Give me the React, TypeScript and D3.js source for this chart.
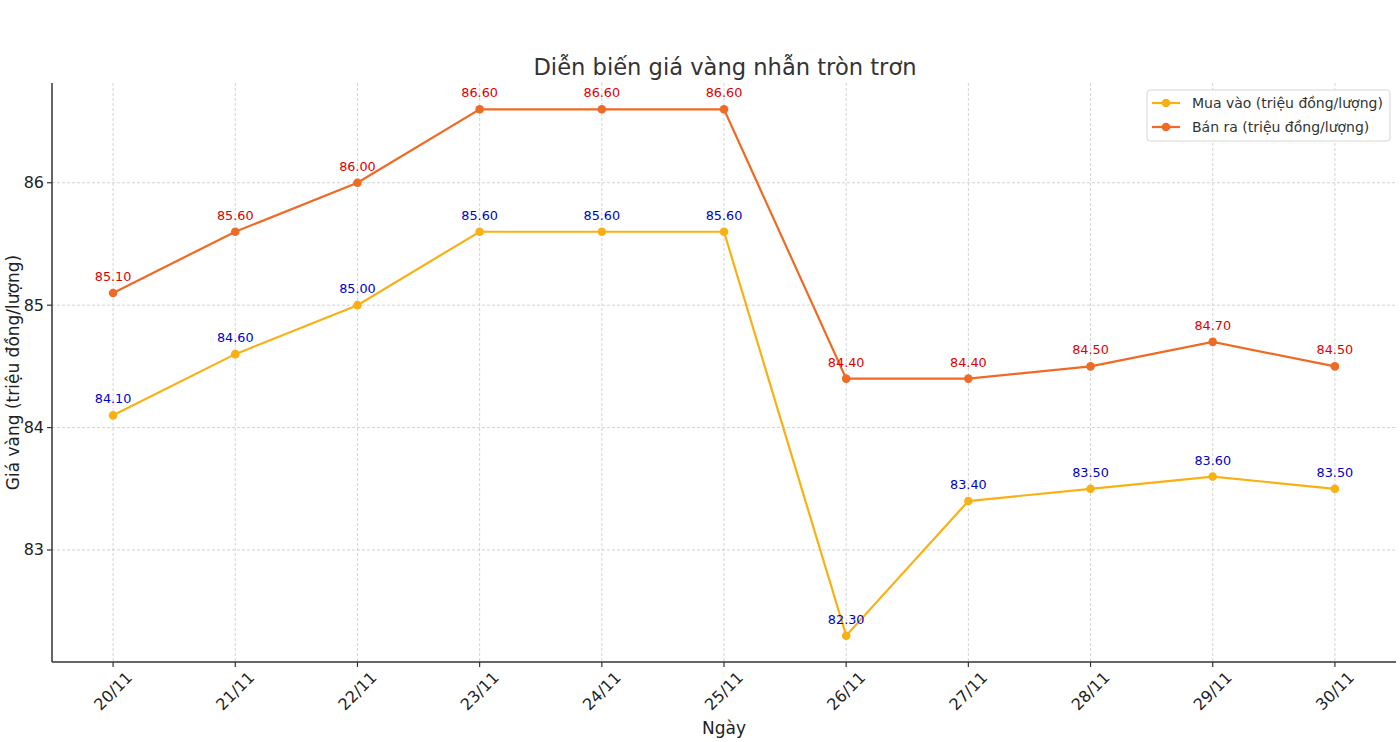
import React from "react";
import * as d3 from "d3";

const categories = ["20/11", "21/11", "22/11", "23/11", "24/11", "25/11", "26/11", "27/11", "28/11", "29/11", "30/11"];
const buyValues = [84.1, 84.6, 85.0, 85.6, 85.6, 85.6, 82.3, 83.4, 83.5, 83.6, 83.5];
const sellValues = [85.1, 85.6, 86.0, 86.6, 86.6, 86.6, 84.4, 84.4, 84.5, 84.7, 84.5];
const yTicks = [83, 84, 85, 86];
const seriesNames = ["Mua vào (triệu đồng/lượng)", "Bán ra (triệu đồng/lượng)"];

const W = 1400, H = 742;
const left = 52, right = 1396, top = 83, bottom = 662;
const FONT = "DejaVu Sans, sans-serif";

export default function App() {
  const x = d3.scaleLinear().domain([-0.5, categories.length - 0.5]).range([left, right]);
  const all = [...buyValues, ...sellValues];
  const mn = d3.min(all)!, mx = d3.max(all)!;
  const pad = (mx - mn) * 0.05;
  const y = d3.scaleLinear().domain([mn - pad, mx + pad]).range([bottom, top]);
  const line = d3.line<number>().x((_, i) => x(i)).y((d) => y(d));

  const series = [
    { name: seriesNames[0], values: buyValues, color: "#F9B013", labelColor: "#0000CC" },
    { name: seriesNames[1], values: sellValues, color: "#EE6A25", labelColor: "#DD0000" },
  ];

  return (
    <svg width={W} height={H} style={{ position: "absolute", left: 0, top: 0, background: "#fff" }} fontFamily={FONT}>
      <rect width={W} height={H} fill="#fff" />
      <text x={725} y={75} textAnchor="middle" fontSize={22.6} fill="#333">Diễn biến giá vàng nhẫn tròn trơn</text>
      {/* grid */}
      {categories.map((_, i) => (
        <line key={"gx" + i} x1={x(i)} x2={x(i)} y1={top} y2={bottom} stroke="#c8c8c8" strokeWidth={0.8} strokeDasharray="3,2" />
      ))}
      {yTicks.map((t) => (
        <line key={"gy" + t} x1={left} x2={right} y1={y(t)} y2={y(t)} stroke="#c8c8c8" strokeWidth={0.8} strokeDasharray="3,2" />
      ))}
      {/* axes */}
      <line x1={left} x2={left} y1={top} y2={bottom} stroke="#333" strokeWidth={1.5} />
      <line x1={left} x2={right} y1={bottom} y2={bottom} stroke="#333" strokeWidth={1.5} />
      {yTicks.map((t) => (
        <g key={"yt" + t}>
          <line x1={left - 5} x2={left} y1={y(t)} y2={y(t)} stroke="#333" strokeWidth={1.2} />
          <text x={left - 8} y={y(t)} textAnchor="end" dominantBaseline="central" fontSize={16} fill="#222">{t}</text>
        </g>
      ))}
      {categories.map((c, i) => (
        <g key={"xt" + i}>
          <line x1={x(i)} x2={x(i)} y1={bottom} y2={bottom + 5} stroke="#333" strokeWidth={1.2} />
          <text transform={`translate(${x(i)},${691}) rotate(-45)`} textAnchor="middle" dominantBaseline="central" fontSize={16} fill="#222">{c}</text>
        </g>
      ))}
      <text x={724} y={734} textAnchor="middle" fontSize={17} fill="#222">Ngày</text>
      <text transform={`translate(13,${(top + bottom) / 2}) rotate(-90)`} textAnchor="middle" dominantBaseline="central" fontSize={17} fill="#222">Giá vàng (triệu đồng/lượng)</text>
      {/* series */}
      {series.map((s) => (
        <g key={s.name}>
          <path d={line(s.values)!} fill="none" stroke={s.color} strokeWidth={2.2} />
          {s.values.map((v, i) => (
            <circle key={i} cx={x(i)} cy={y(v)} r={4.3} fill={s.color} />
          ))}
          {s.values.map((v, i) => (
            <text key={"l" + i} x={x(i)} y={y(v) - 12} textAnchor="middle" fontSize={12.8} fill={s.labelColor}>{v.toFixed(2)}</text>
          ))}
        </g>
      ))}
      {/* legend */}
      <g>
        <rect x={1147} y={90} width={243} height={51} rx={3} fill="#fff" fillOpacity={0.85} stroke="#d6d6d6" />
        {series.map((s, i) => (
          <g key={"lg" + i}>
            <line x1={1152} x2={1180} y1={103 + i * 24} y2={103 + i * 24} stroke={s.color} strokeWidth={2.2} />
            <circle cx={1166} cy={103 + i * 24} r={4.3} fill={s.color} />
            <text x={1192} y={103 + i * 24} dominantBaseline="central" fontSize={14} fill="#333">{s.name}</text>
          </g>
        ))}
      </g>
    </svg>
  );
}
